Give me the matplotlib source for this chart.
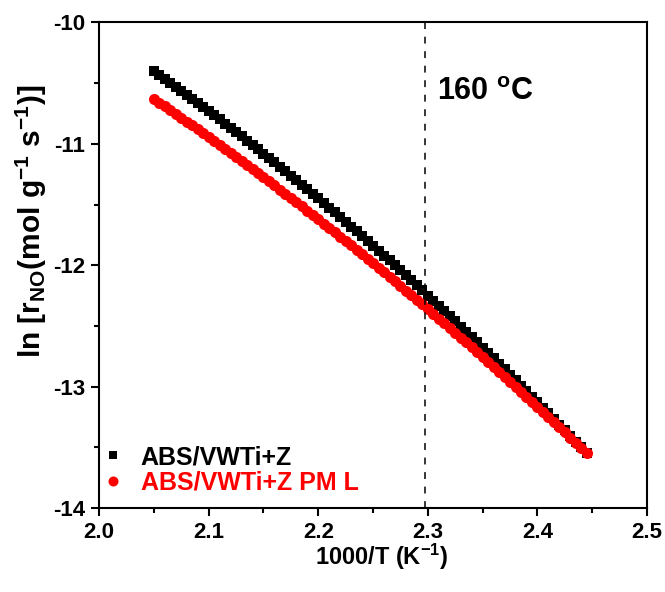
import matplotlib
matplotlib.use("Agg")
import matplotlib.pyplot as plt
from matplotlib.ticker import MultipleLocator

plt.rcParams['font.family'] = ['Liberation Sans', 'DejaVu Sans']
plt.rcParams['font.weight'] = 'bold'
plt.rcParams['mathtext.fontset'] = 'custom'
plt.rcParams['mathtext.rm'] = 'Liberation Sans:bold'
plt.rcParams['mathtext.bf'] = 'Liberation Sans:bold'
plt.rcParams['mathtext.default'] = 'bf'

# data (1000/T, ln r_NO)
inv_t = [2.050, 2.055, 2.060, 2.065, 2.070, 2.075, 2.080, 2.085, 2.090, 2.095,
         2.100, 2.105, 2.110, 2.115, 2.120, 2.125, 2.130, 2.135, 2.140, 2.145,
         2.150, 2.155, 2.160, 2.165, 2.170, 2.175, 2.180, 2.185, 2.190, 2.195,
         2.200, 2.205, 2.210, 2.215, 2.220, 2.225, 2.230, 2.235, 2.240, 2.245,
         2.250, 2.255, 2.260, 2.265, 2.270, 2.275, 2.280, 2.285, 2.290, 2.295,
         2.300, 2.305, 2.310, 2.315, 2.320, 2.325, 2.330, 2.335, 2.340, 2.345,
         2.350, 2.355, 2.360, 2.365, 2.370, 2.375, 2.380, 2.385, 2.390, 2.395,
         2.400, 2.405, 2.410, 2.415, 2.420, 2.425, 2.430, 2.435, 2.440, 2.445]

ln_r_abs = [-10.400, -10.432, -10.464, -10.497, -10.530, -10.563, -10.596, -10.629, -10.663, -10.696,
            -10.730, -10.764, -10.799, -10.833, -10.868, -10.903, -10.938, -10.973, -11.009, -11.044,
            -11.080, -11.116, -11.153, -11.189, -11.226, -11.263, -11.300, -11.337, -11.375, -11.412,
            -11.450, -11.488, -11.527, -11.565, -11.604, -11.643, -11.682, -11.721, -11.760, -11.800,
            -11.840, -11.880, -11.920, -11.961, -12.001, -12.042, -12.083, -12.125, -12.166, -12.208,
            -12.250, -12.292, -12.334, -12.376, -12.419, -12.462, -12.505, -12.548, -12.592, -12.635,
            -12.679, -12.723, -12.767, -12.812, -12.857, -12.901, -12.946, -12.992, -13.037, -13.083,
            -13.129, -13.175, -13.221, -13.267, -13.314, -13.361, -13.408, -13.455, -13.502, -13.550]

ln_r_pml = [-10.630, -10.661, -10.692, -10.723, -10.754, -10.785, -10.817, -10.848, -10.880, -10.912,
            -10.944, -10.977, -11.009, -11.042, -11.075, -11.108, -11.141, -11.174, -11.207, -11.241,
            -11.275, -11.309, -11.343, -11.377, -11.411, -11.446, -11.481, -11.516, -11.551, -11.586,
            -11.621, -11.657, -11.692, -11.728, -11.764, -11.800, -11.837, -11.873, -11.910, -11.947,
            -11.984, -12.021, -12.058, -12.095, -12.133, -12.171, -12.209, -12.247, -12.285, -12.323,
            -12.362, -12.401, -12.440, -12.479, -12.518, -12.557, -12.597, -12.636, -12.676, -12.716,
            -12.756, -12.797, -12.837, -12.878, -12.919, -12.960, -13.001, -13.042, -13.084, -13.125,
            -13.167, -13.209, -13.251, -13.293, -13.336, -13.378, -13.421, -13.464, -13.507, -13.550]

labels = ['ABS/VWTi+Z', 'ABS/VWTi+Z PM L']
x_160c = 2.297

fig = plt.figure(figsize=(6.65, 5.92), dpi=100)
ax = fig.add_axes([0.149, 0.142, 0.824, 0.820])

ax.plot(inv_t, ln_r_abs, ls='none', marker='s', ms=6.5, color='black', mew=0, label=labels[0])
ax.plot(inv_t, ln_r_pml, ls='none', marker='o', ms=8, color='red', mew=0, label=labels[1])
ax.axvline(x_160c, color='black', ls=(0, (4.5, 5)), lw=1.1)
ax.text(2.308, -10.57, '160 $^{o}$C', fontsize=22, fontweight='bold', va='center', ha='left')

ax.set_xlim(2.0, 2.5)
ax.set_ylim(-14, -10)
ax.xaxis.set_minor_locator(MultipleLocator(0.05))
ax.yaxis.set_minor_locator(MultipleLocator(0.5))
ax.set_xticks([2.0, 2.1, 2.2, 2.3, 2.4, 2.5])
ax.set_xticklabels(['2.0', '2.1', '2.2', '2.3', '2.4', '2.5'])
ax.set_yticks([-14, -13, -12, -11, -10])
ax.set_yticklabels(['-14', '-13', '-12', '-11', '-10'])
ax.tick_params(which='major', direction='out', length=6, width=1.5, labelsize=16, pad=4)
ax.tick_params(which='minor', direction='out', length=3.5, width=1.5)
for s in ax.spines.values():
    s.set_linewidth(1.5)

ax.set_xlabel('1000/T (K$^{-1}$)', fontsize=17, fontweight='bold')
ax.set_ylabel('ln [r$_{NO}$(mol g$^{-1}$ s$^{-1}$)]', fontsize=21.5, fontweight='bold')
ax.xaxis.set_label_coords(0.515, -0.07)
ax.yaxis.set_label_coords(-0.091, 0.59)

leg = ax.legend(loc='lower left', frameon=False, fontsize=18, handletextpad=0.65,
                handlelength=0.9, borderaxespad=0.3, labelspacing=0.05, markerscale=0.9,
                bbox_to_anchor=(-0.027, -0.008))
for txt, c in zip(leg.get_texts(), ['black', 'red']):
    txt.set_color(c)

fig.savefig('out.png', dpi=100)
